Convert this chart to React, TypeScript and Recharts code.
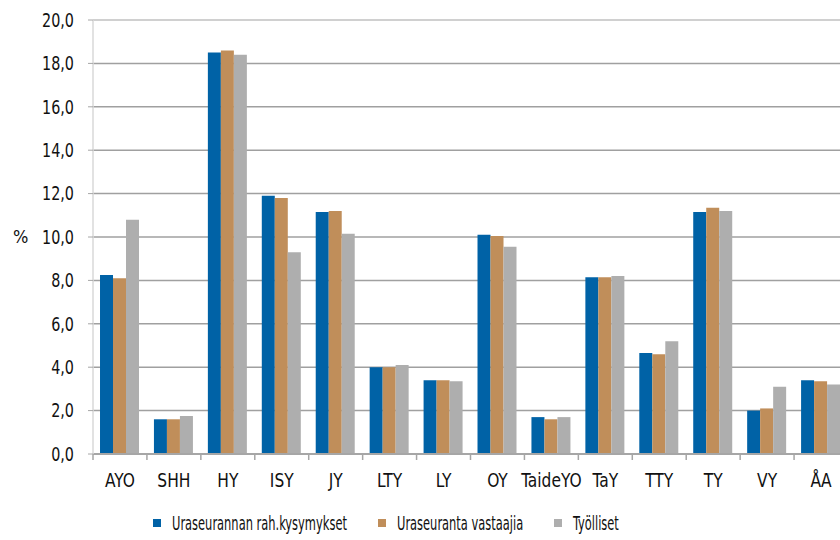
import React from "react";
import { BarChart, Bar, XAxis, YAxis, CartesianGrid, Legend, ReferenceLine } from "recharts";

const categories = ["AYO", "SHH", "HY", "ISY", "JY", "LTY", "LY", "OY", "TaideYO", "TaY", "TTY", "TY", "VY", "ÅA"];
const rahKysymykset = [8.25, 1.6, 18.5, 11.9, 11.15, 4.0, 3.4, 10.1, 1.7, 8.15, 4.65, 11.15, 2.0, 3.4];
const vastaajia = [8.1, 1.6, 18.6, 11.8, 11.2, 4.0, 3.4, 10.05, 1.6, 8.15, 4.6, 11.35, 2.1, 3.35];
const tyolliset = [10.8, 1.75, 18.4, 9.3, 10.15, 4.1, 3.35, 9.55, 1.7, 8.2, 5.2, 11.2, 3.1, 3.2];
const yTicks = [0, 2, 4, 6, 8, 10, 12, 14, 16, 18, 20];

const seriesNames = ["Uraseurannan rah.kysymykset", "Uraseuranta vastaajia", "Työlliset"];
const seriesColors = ["#0062A6", "#C08E5A", "#AEAEAE"];

const data = categories.map((c, i) => ({
  name: c,
  a: rahKysymykset[i],
  b: vastaajia[i],
  c: tyolliset[i],
}));

const FONT = "'DejaVu Sans Condensed', 'DejaVu Sans', sans-serif";

const fmt = (v: number) => v.toFixed(1).replace(".", ",");

const XTick = (props: any) => {
  const { x, y, payload } = props;
  const off = payload.offset || 0;
  return (
    <g>
      <line x1={x - off} y1={y} x2={x - off} y2={y + 6} stroke="#A6A6A6" strokeWidth={1.5} />
      <text
        transform={`translate(${x},${y + 33}) scale(0.86,1)`}
        textAnchor="middle"
        fontFamily={FONT}
        fontSize={20}
        fill="#111"
      >
        {payload.value}
      </text>
    </g>
  );
};

const YTick = (props: any) => {
  const { x, y, payload } = props;
  return (
    <text
      transform={`translate(${x},${y}) scale(0.84,1)`}
      textAnchor="end"
      dy="0.36em"
      fontFamily={FONT}
      fontSize={19}
      fill="#111"
    >
      {fmt(payload.value)}
    </text>
  );
};

const itemWidths = [225, 176, 200];

const LegendContent = () => (
  <div style={{ height: 30, display: "flex", alignItems: "center", paddingLeft: 153, fontFamily: FONT, fontSize: 19, color: "#111" }}>
    {seriesNames.map((n, i) => (
      <div key={n} style={{ display: "flex", alignItems: "center", width: itemWidths[i], whiteSpace: "nowrap" }}>
        <div style={{ width: 8, height: 8, background: seriesColors[i], marginRight: 11, flex: "none" }} />
        <span style={{ display: "inline-block", transform: "scaleX(0.67)", transformOrigin: "left center" }}>{n}</span>
      </div>
    ))}
  </div>
);

export default function App() {
  return (
    <div style={{ position: "fixed", left: 0, top: 0, width: 840, height: 540, overflow: "hidden", background: "#fff" }}>
      <BarChart
        width={870}
        height={540}
        data={data}
        margin={{ top: 20, right: 22, left: 0, bottom: 16 }}
        barCategoryGap="13%"
        barGap={0}
      >
        <CartesianGrid vertical={false} stroke="#A0A0A0" strokeWidth={1.5} />
        <ReferenceLine y={20} stroke="#D9D9D9" strokeWidth={1.5} />
        <XAxis
          dataKey="name"
          height={40}
          tick={<XTick />}
          tickLine={false}
          tickSize={0}
          tickMargin={0}
          axisLine={{ stroke: "#A6A6A6", strokeWidth: 2 }}
          interval={0}
        />
        <YAxis
          width={93}
          domain={[0, 20]}
          ticks={yTicks}
          tickSize={5}
          tickMargin={14}
          tickLine={{ stroke: "#A6A6A6" }}
          axisLine={{ stroke: "#D9D9D9", strokeWidth: 1.5 }}
          tick={<YTick />}
          label={{ value: "%", position: "insideLeft", offset: 13, fontFamily: FONT, fontSize: 18, fill: "#111" }}
        />
        <Legend
          verticalAlign="bottom"
          content={<LegendContent />}
          wrapperStyle={{ top: 508, bottom: "auto", left: 0, width: 840 }}
        />
        <Bar dataKey="a" name={seriesNames[0]} fill={seriesColors[0]} isAnimationActive={false} />
        <Bar dataKey="b" name={seriesNames[1]} fill={seriesColors[1]} isAnimationActive={false} />
        <Bar dataKey="c" name={seriesNames[2]} fill={seriesColors[2]} isAnimationActive={false} />
      </BarChart>
    </div>
  );
}
